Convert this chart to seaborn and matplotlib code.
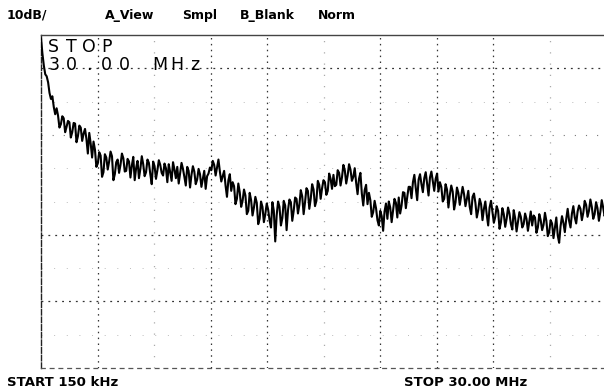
import numpy as np
import pandas as pd
import matplotlib
matplotlib.use("Agg")
import matplotlib.pyplot as plt
import seaborn as sns

# ---- data -------------------------------------------------------------
start_mhz = 0.15
stop_mhz = 30.00

# trace level in graticule units (0 = top line, -50 = bottom line)
# samples on the even sweep points
level_even = [
    -0.5, -4.6, -6.2, -8.7, -9.2, -11.9, -12.1, -13.4, -12.5, -13.8,
    -13.1, -14.6, -13.3, -15.2, -13.9, -14.8, -15.6, -14.7, -18.4, -17.2,
    -19.3, -18.1, -20.6, -18.4, -19.0, -18.2, -20.9, -18.7, -19.5, -18.5,
    -20.4, -19.0, -19.6, -21.8, -18.9, -20.1, -19.4, -20.6, -19.2, -22.4,
    -19.7, -20.3, -19.5, -21.1, -20.0, -19.4, -21.9, -20.2, -19.8, -20.7,
    -20.1, -22.6, -20.4, -21.0, -20.5, -21.7, -20.9, -21.6, -23.1, -20.8,
    -20.3, -19.5, -19.9, -20.5, -21.2, -22.6, -21.8, -23.4, -22.7, -24.6,
    -23.6, -24.9, -24.1, -26.4, -24.8, -25.9, -25.2, -27.6, -25.8, -26.9,
    -26.2, -28.9, -26.4, -27.1, -25.8, -27.5, -25.6, -26.3, -25.1, -26.4,
    -24.6, -25.5, -24.2, -25.1, -23.4, -24.6, -23.2, -24.9, -22.5, -23.0,
    -22.1, -23.4, -21.6, -21.0, -22.5, -20.7, -21.4, -20.3, -21.1, -20.2,
    -21.3, -22.2, -21.6, -23.8, -23.3, -25.4, -24.8, -26.6, -26.0, -28.6,
    -27.2, -26.5, -27.6, -25.9, -26.3, -25.2, -24.4, -25.6, -23.7, -24.3,
    -22.8, -22.1, -23.0, -21.7, -22.4, -21.5, -22.3, -21.4, -21.9, -21.6,
    -23.5, -22.8, -24.6, -23.2, -24.0, -23.5, -25.1, -23.7, -24.2, -23.9,
    -24.6, -25.8, -24.3, -25.2, -26.3, -25.4, -26.1, -27.0, -25.9, -26.6,
    -27.3, -26.4, -28.1, -26.9, -27.6, -26.8, -29.2, -27.5, -28.0, -27.3,
    -28.4, -27.6, -27.9, -28.6, -27.4, -28.9, -27.8, -28.5, -27.9, -29.6,
    -28.3, -29.0, -30.1, -28.7, -28.2, -27.6, -27.9, -26.8, -27.4, -26.5,
    -26.1, -26.7, -25.5, -26.4, -25.8, -26.9, -26.0, -26.6, -25.9, -26.4,
]
# samples on the odd sweep points (between the even ones)
level_odd = [
    -2.8, -5.9, -7.1, -9.6, -10.8, -11.0, -13.9, -12.2, -14.6, -12.9,
    -15.4, -13.2, -16.1, -13.6, -15.9, -14.1, -17.8, -16.3, -16.0, -19.8,
    -17.6, -21.3, -17.9, -20.2, -17.5, -21.8, -19.1, -20.7, -17.8, -20.5,
    -18.6, -21.4, -18.3, -20.0, -21.5, -18.2, -21.2, -18.7, -20.9, -19.0,
    -21.6, -18.8, -20.7, -19.3, -22.1, -20.6, -19.1, -21.5, -22.3, -19.2,
    -21.3, -19.8, -22.9, -19.7, -22.4, -20.1, -22.8, -20.4, -21.2, -19.9,
    -18.9, -21.1, -18.7, -22.0, -20.4, -24.3, -20.9, -22.1, -25.4, -22.3,
    -25.8, -23.2, -26.9, -23.7, -27.1, -24.3, -28.4, -25.0, -28.1, -25.3,
    -27.8, -25.1, -31.0, -25.0, -28.6, -24.9, -29.3, -24.7, -27.9, -24.4,
    -26.8, -23.3, -26.9, -23.0, -26.1, -22.4, -25.7, -21.9, -24.6, -21.8,
    -24.0, -20.8, -23.1, -22.7, -20.3, -22.6, -19.5, -22.3, -19.4, -21.9,
    -20.0, -23.9, -20.7, -25.6, -22.5, -23.7, -27.3, -24.9, -27.8, -26.4,
    -29.4, -25.3, -25.0, -28.1, -24.6, -27.4, -26.8, -23.6, -26.0, -22.8,
    -24.5, -21.0, -24.8, -20.9, -23.6, -20.6, -24.1, -20.5, -23.4, -20.8,
    -22.1, -25.0, -22.4, -25.9, -22.6, -26.2, -22.9, -25.5, -22.8, -25.7,
    -23.4, -26.9, -23.8, -27.4, -24.6, -27.8, -25.0, -28.6, -24.9, -28.2,
    -25.7, -29.1, -26.0, -28.8, -25.9, -28.4, -26.3, -29.5, -26.6, -28.9,
    -26.8, -29.4, -26.5, -27.1, -29.7, -26.9, -29.3, -26.7, -30.2, -27.8,
    -30.5, -27.4, -31.2, -27.2, -29.6, -26.1, -28.9, -25.7, -28.3, -25.6,
    -27.8, -24.9, -27.3, -24.7, -27.6, -25.1, -27.9, -24.8, -27.2,
]

header_labels = ["10dB/", "A_View", "Smpl", "B_Blank", "Norm"]
header_x_px = [7, 105, 182, 240, 318]
marker_lines = ["STOP", "30.00 MHz"]
footer_left = "START 150 kHz"
footer_right = "STOP 30.00 MHz"

# interleave the two sample sets into one sweep
n_points = len(level_even) + len(level_odd)
level = np.empty(n_points)
level[0::2] = level_even
level[1::2] = level_odd
freq_mhz = np.linspace(start_mhz, stop_mhz, n_points)   # sweep points
df = pd.DataFrame({"freq": freq_mhz, "level": level})

# ---- figure -----------------------------------------------------------
sns.set_style("white")
plt.rcParams["font.family"] = ["DejaVu Sans"]

W, H = 604, 389
fig = plt.figure(figsize=(W / 100, H / 100), dpi=100)
ax = fig.add_axes([41 / W, 21 / H, 565 / W, 333 / H])

sns.lineplot(data=df, x="freq", y="level", ax=ax, color="black",
             linewidth=1.5, estimator=None, sort=True, zorder=3)

ax.set_xlim(start_mhz, stop_mhz)
ax.set_ylim(-50, 0)
ax.set_xlabel("")
ax.set_ylabel("")
ax.set_xticks([])
ax.set_yticks([])

# graticule: 10 x 10 divisions, drawn faint and dotted
div_x = (stop_mhz - start_mhz) / 10
for k in range(1, 10):
    strong = k in (1, 3, 4, 6, 7, 8)
    ax.axvline(start_mhz + k * div_x, color="#333333" if strong else "#aaaaaa",
               lw=0.9, ls=(0, (1.2, 3.5)) if strong else (0, (1, 8)), zorder=1)
for k in range(1, 10):
    yv = -5 * k
    if k in (1, 6, 8):
        ax.axhline(yv, color="#333333", lw=0.9, ls=(0, (1.5, 4)), zorder=1)
    elif k == 3:
        ax.axhline(yv, color="#777777", lw=0.8, ls=(0, (1, 9)), zorder=1)
    else:
        ax.axhline(yv, color="#bbbbbb", lw=0.7, ls=(0, (1, 12)), zorder=1)

ax.spines["right"].set_visible(False)
ax.spines["top"].set_color("#444444")
ax.spines["top"].set_linewidth(1.0)
ax.spines["left"].set_color("#222222")
ax.spines["left"].set_linewidth(1.0)
ax.spines["left"].set_linestyle((0, (4, 1.5)))
ax.spines["bottom"].set_color("#555555")
ax.spines["bottom"].set_linewidth(0.9)
ax.spines["bottom"].set_linestyle((0, (3, 4)))

# marker annotation, fixed-pitch characters
pitch = 17.6
x0 = 46
for line, base in zip(marker_lines, [52, 70]):
    for j, ch in enumerate(line):
        if ch == " ":
            continue
        fig.text((x0 + pitch * j + pitch / 2 - 1) / W, 1 - base / H, ch,
                 ha="center", va="baseline", fontsize=12.5,
                 family=["DejaVu Sans"], color="black", zorder=5)

# header and footer
for lab, xp in zip(header_labels, header_x_px):
    fig.text(xp / W, 1 - 19 / H, lab, ha="left", va="baseline",
             fontsize=9, fontweight="bold", color="black")
fig.text(7 / W, 1 - 386 / H, footer_left, ha="left", va="baseline",
         fontsize=9.5, fontweight="bold", color="black")
fig.text(404 / W, 1 - 386 / H, footer_right, ha="left", va="baseline",
         fontsize=9.5, fontweight="bold", color="black")

fig.savefig("out.png", dpi=100, facecolor="white")
